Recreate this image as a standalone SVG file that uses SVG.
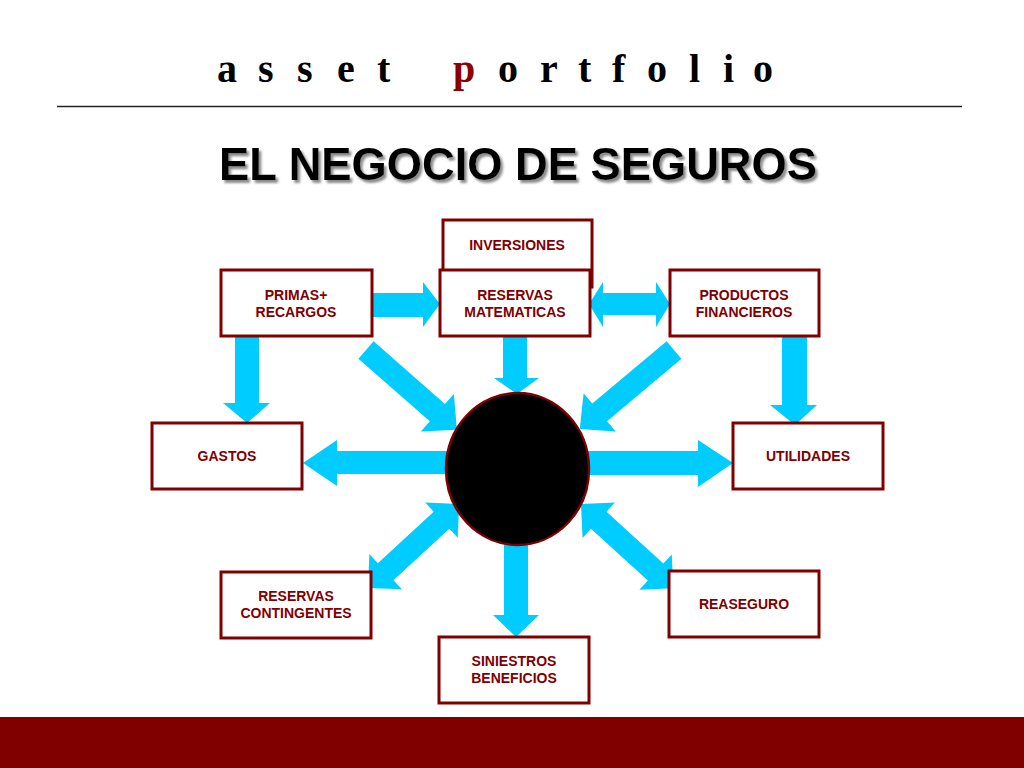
<svg xmlns="http://www.w3.org/2000/svg" width="1024" height="768" viewBox="0 0 1024 768">
<style>
.box{fill:#fff;stroke:#800000;stroke-width:3}
.lbl{font-family:"Liberation Sans",Arial,sans-serif;font-weight:bold;font-size:14px;fill:#800000;text-anchor:middle}
.arr{fill:#00CCFF}
</style>
<defs>
<filter id="shadow" x="-5%" y="-20%" width="110%" height="150%">
<feDropShadow dx="2.5" dy="3" stdDeviation="1" flood-color="#808080" flood-opacity="0.9"/>
</filter>
</defs>
<rect x="0" y="0" width="1024" height="768" fill="#fff"/>
<text font-family="'Liberation Serif','Times New Roman',serif" font-weight="bold" font-size="40" fill="#000" x="217 258 297 337 377 415 453 498 540 578 612 647 689 723 753" y="82">asset <tspan fill="#8B0000">p</tspan>ortfolio</text>
<line x1="57" y1="106.5" x2="962" y2="106.5" stroke="#222" stroke-width="1.5"/>
<text x="219" y="180" font-family="'Liberation Sans',Arial,sans-serif" font-weight="bold" font-size="46" fill="#000" textLength="598" lengthAdjust="spacingAndGlyphs" filter="url(#shadow)">EL NEGOCIO DE SEGUROS</text>
<g id="connectors">
<polygon class="arr" points="372,293 423,293 423,282 440,304 423,327 423,317 372,317"/>
<polygon class="arr" points="589,304 603,282 603,293 656,293 656,282 670,304 656,327 656,315 603,315 603,327"/>
<polygon class="arr" points="503,336 527,336 527,378 539,378 517,394 494,378 503,378"/>
<polygon class="arr" points="235,336 259,336 259,403 270,403 247,423 223,403 235,403"/>
<polygon class="arr" points="782,336 807,336 807,405 817,405 795,425 770,405 782,405"/>
<polygon class="arr" points="460,451 337,451 337,440 303,463 337,486 337,474 460,474"/>
<polygon class="arr" points="575,451 698,451 698,440 733,463 698,487 698,475 575,475"/>
<polygon class="arr" points="504,530 528,530 528,615 539,615 516,637 493,615 504,615"/>
<polygon class="arr" transform="translate(366,350) rotate(41.3)" points="0,-11.5 95,-11.5 95,-25 121,0 95,25 95,11.5 0,11.5"/>
<polygon class="arr" transform="translate(674,350) rotate(140)" points="0,-11.5 97,-11.5 97,-25 123,0 97,25 97,11.5 0,11.5"/>
<polygon class="arr" transform="translate(368,588) rotate(-42.7)" points="0,0 24,-24 24,-11.5 100,-11.5 100,-24 124,0 100,24 100,11.5 24,11.5 24,24"/>
<polygon class="arr" transform="translate(581,504) rotate(42.4)" points="0,0 24,-24 24,-11.5 101,-11.5 101,-24 125,0 101,24 101,11.5 24,11.5 24,24"/>
</g>
<g id="center"><ellipse cx="517.5" cy="469" rx="71.5" ry="76" fill="#000" stroke="#7F0000" stroke-width="2.5"/></g>
<g id="inversiones"><rect class="box" x="443" y="220" width="149" height="67"/><text class="lbl" x="517" y="250">INVERSIONES</text></g>
<g id="reservas-matematicas"><rect class="box" x="440" y="270" width="150" height="66"/><text class="lbl" x="515" y="300">RESERVAS</text><text class="lbl" x="515" y="317">MATEMATICAS</text></g>
<g id="primas"><rect class="box" x="221" y="270" width="151" height="66"/><text class="lbl" x="296" y="300">PRIMAS+</text><text class="lbl" x="296" y="317">RECARGOS</text></g>
<g id="productos"><rect class="box" x="670" y="270" width="149" height="66"/><text class="lbl" x="744" y="300">PRODUCTOS</text><text class="lbl" x="744" y="317">FINANCIEROS</text></g>
<g id="gastos"><rect class="box" x="152" y="423" width="150" height="66"/><text class="lbl" x="227" y="461">GASTOS</text></g>
<g id="utilidades"><rect class="box" x="733" y="423" width="150" height="66"/><text class="lbl" x="808" y="461">UTILIDADES</text></g>
<g id="reservas-contingentes"><rect class="box" x="221" y="572" width="150" height="66"/><text class="lbl" x="296" y="601">RESERVAS</text><text class="lbl" x="296" y="618">CONTINGENTES</text></g>
<g id="reaseguro"><rect class="box" x="669" y="571" width="150" height="66"/><text class="lbl" x="744" y="609">REASEGURO</text></g>
<g id="siniestros"><rect class="box" x="439" y="637" width="150" height="66"/><text class="lbl" x="514" y="666">SINIESTROS</text><text class="lbl" x="514" y="683">BENEFICIOS</text></g>
<rect x="0" y="717" width="1024" height="51" fill="#800000"/>
</svg>
